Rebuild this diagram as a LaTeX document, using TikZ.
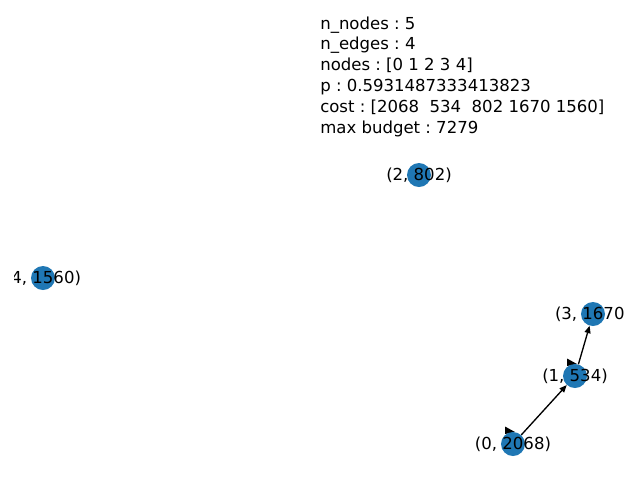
\documentclass[tikz,border=0pt]{standalone}
\usepackage{fontspec}
\setmainfont{DejaVu Sans}
\frenchspacing
\usetikzlibrary{arrows.meta}
\definecolor{nxblue}{HTML}{1F77B4}
\tikzset{
  vtx/.style={circle,fill=nxblue,draw=none,minimum size=18pt,inner sep=0pt},
  vlabel/.style={font=\fontsize{12.4pt}{14pt}\selectfont,inner sep=0pt,anchor=center},
  info/.style={font=\fontsize{12.4pt}{14pt}\selectfont,inner sep=0pt,anchor=base west},
  edge/.style={line width=1pt,-{Triangle[length=5.5pt,width=4.5pt]},shorten >=0pt,shorten <=0pt},
  looptip/.style={fill=black,draw=none}
}
\begin{document}
\begin{tikzpicture}[x=0.75pt,y=-0.75pt]
\useasboundingbox (0,0) rectangle (640,480);
\begin{scope}
\clip (14,0) rectangle (624,480);
% self-loop arrow tips (mostly hidden behind nodes)
\coordinate (l0) at (513,444);
\coordinate (l1) at (575,376);
\fill[looptip] ([shift={(-8,-17.5)}]l0) -- ([shift={(-8,-10)}]l0) -- ([shift={(2,-12)}]l0) -- cycle;
\fill[looptip] ([shift={(-8,-17.5)}]l1) -- ([shift={(-8,-10)}]l1) -- ([shift={(2,-12)}]l1) -- cycle;
% nodes
\node[vtx] (n0) at (l0) {};
\node[vtx] (n1) at (l1) {};
\node[vtx] (n2) at (419,175) {};
\node[vtx] (n3) at (593,314) {};
\node[vtx] (n4) at (43,278) {};
% edges
\draw[edge] (n0) -- (n1);
\draw[edge] (n1) -- (n3);
% labels
\node[vlabel] (t0) at (n0) {(0, 2068)};
\node[vlabel] (t1) at (n1) {(1, 534)};
\node[vlabel] (t2) at (n2) {(2, 802)};
\node[vlabel] (t3) at (n3) {(3, 1670)};
\node[vlabel] (t4) at (n4) {(4, 1560)};
\end{scope}
% info text
\node[info] (i1) at (320,29) {n\_nodes : 5};
\node[info] (i2) at (320,49.8) {n\_edges : 4};
\node[info] (i3) at (320,70.6) {nodes : [0 1 2 3 4]};
\node[info] (i4) at (320,91.4) {p : 0.5931487333413823};
\node[info] (i5) at (320,112.2) {cost : [2068\ \ 534\ \ 802 1670 1560]};
\node[info] (i6) at (320,133) {max budget : 7279};
\end{tikzpicture}
\end{document}
